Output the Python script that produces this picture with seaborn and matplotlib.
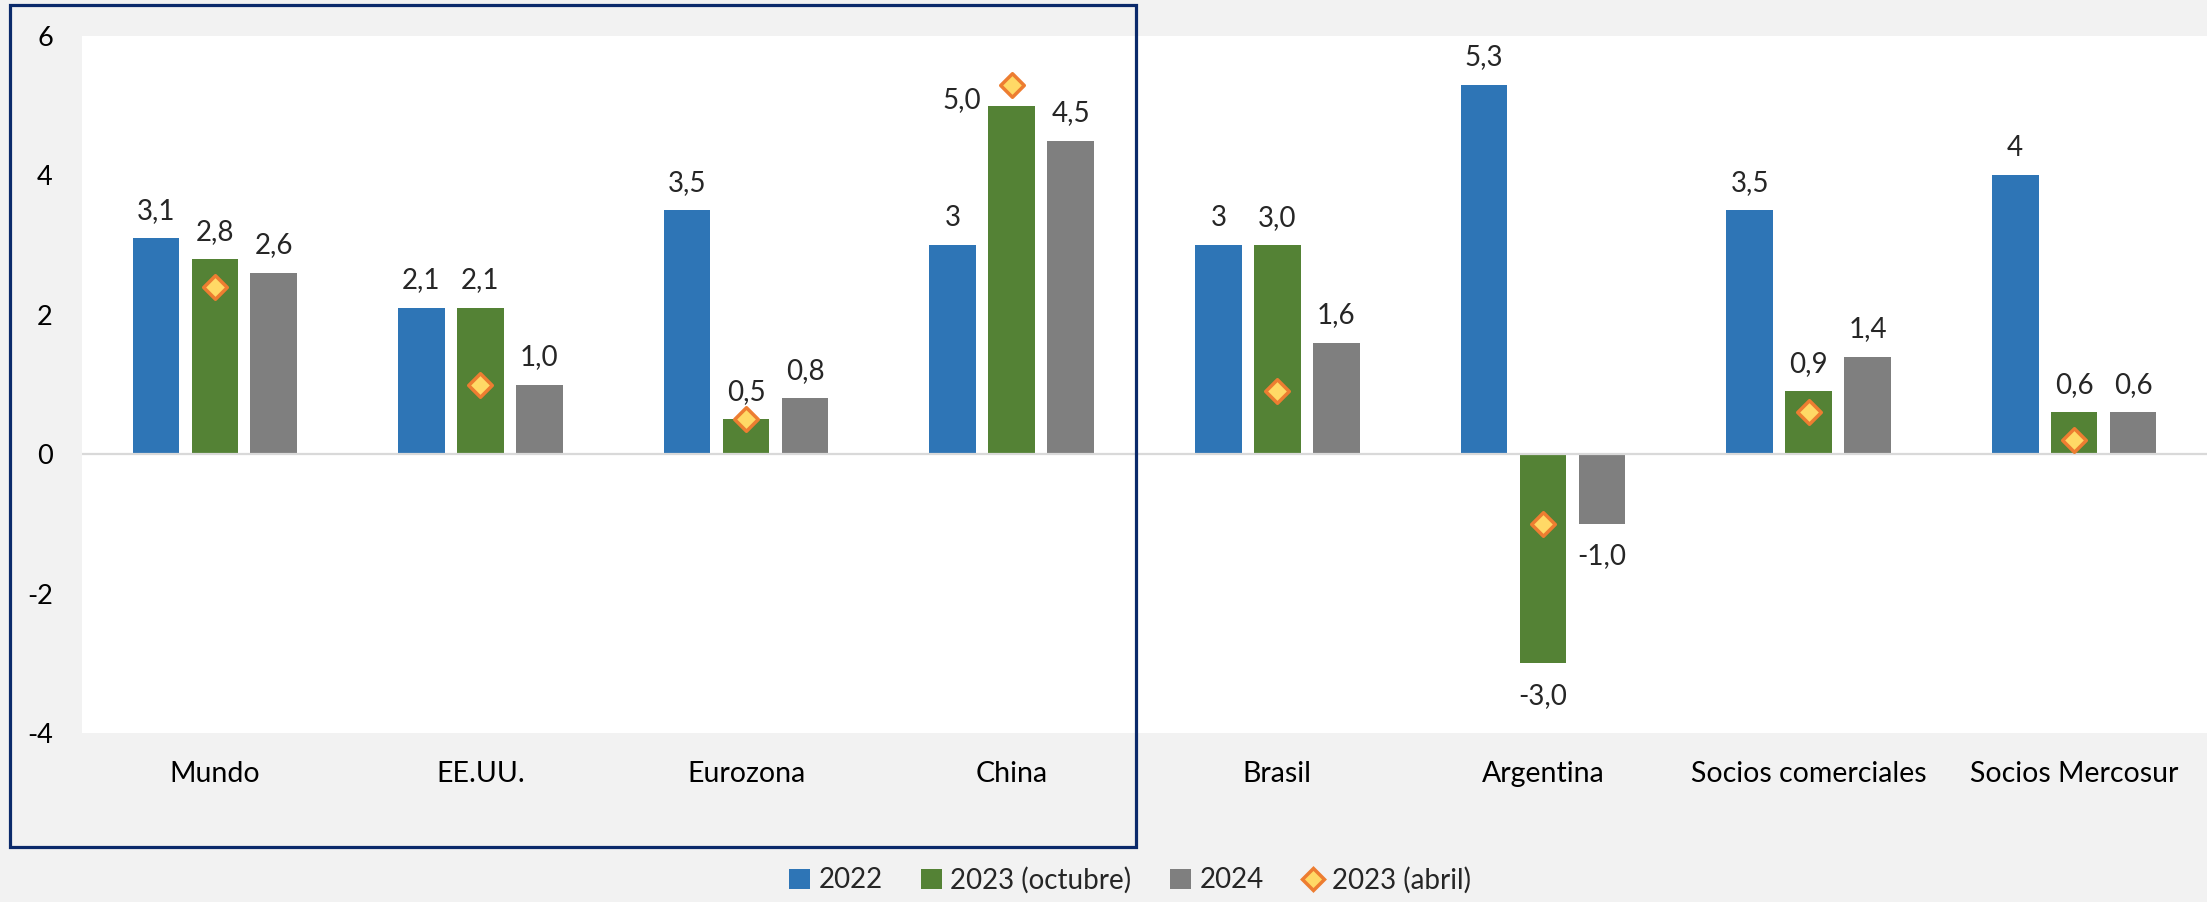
import matplotlib
matplotlib.use("Agg")
import matplotlib.pyplot as plt
from matplotlib.patches import Rectangle
from matplotlib.lines import Line2D
import seaborn as sns
import pandas as pd

categories = ["Mundo", "EE.UU.", "Eurozona", "China", "Brasil", "Argentina",
              "Socios comerciales", "Socios Mercosur"]
series_names = ["2022", "2023 (octubre)", "2024"]
v2022 = [3.1, 2.1, 3.5, 3.0, 3.0, 5.3, 3.5, 4.0]
v2023_oct = [2.8, 2.1, 0.5, 5.0, 3.0, -3.0, 0.9, 0.6]
v2024 = [2.6, 1.0, 0.8, 4.5, 1.6, -1.0, 1.4, 0.6]
v2023_abr = [2.4, 1.0, 0.5, 5.3, 0.9, -1.0, 0.6, 0.2]
labels2022 = ["3,1", "2,1", "3,5", "3", "3", "5,3", "3,5", "4"]
labels2023 = ["2,8", "2,1", "0,5", "5,0", "3,0", "-3,0", "0,9", "0,6"]
labels2024 = ["2,6", "1,0", "0,8", "4,5", "1,6", "-1,0", "1,4", "0,6"]
yticks = [-4, -2, 0, 2, 4, 6]
ytick_labels = ["-4", "-2", "0", "2", "4", "6"]

colors = ["#2E75B6", "#548235", "#7F7F7F"]
BG = "#F2F2F2"

sns.set_theme(style="white")
plt.rcParams["font.family"] = ["Lato", "DejaVu Sans"]

W, H = 2207, 902
fig = plt.figure(figsize=(W / 100, H / 100), dpi=100, facecolor=BG)
ax = fig.add_axes([82 / W, 1 - 733 / H, (W - 82) / W, (733 - 36) / H])
ax.set_facecolor("white")

df = pd.DataFrame({
    "cat": categories * 3,
    "serie": [series_names[0]] * 8 + [series_names[1]] * 8 + [series_names[2]] * 8,
    "valor": v2022 + v2023_oct + v2024,
})

sns.barplot(data=df, x="cat", y="valor", hue="serie", order=categories,
            hue_order=series_names, palette=colors, width=0.666, gap=0.21,
            saturation=1, ax=ax, legend=True, edgecolor="none")

handles, lbls = ax.get_legend_handles_labels()
handles = handles[:3]

sns.stripplot(x=categories, y=v2023_abr, order=categories, jitter=False,
              marker="D", size=12, color="#FFD966", edgecolor="#ED7D31",
              linewidth=2.5, ax=ax, zorder=5, legend=False)

if ax.get_legend() is not None:
    ax.get_legend().remove()

ax.axhline(0, color="#D9D9D9", lw=1.6, zorder=1)

ax.set_xlim(-0.5, 7.5)
ax.set_ylim(-4, 6)
ax.set_yticks(yticks)
ax.set_yticklabels(ytick_labels)
ax.set_xlabel("")
ax.set_ylabel("")
ax.tick_params(axis="y", length=0, pad=21, labelsize=19.5, colors="black")
ax.tick_params(axis="x", length=0, pad=20, labelsize=20.5, colors="black")
for s in ax.spines.values():
    s.set_visible(False)

# data labels
FS = 20
step = 0.222
all_vals = [v2022, v2023_oct, v2024]
all_lbls = [labels2022, labels2023, labels2024]
for k in range(3):
    off = (k - 1) * step
    for i, (v, t) in enumerate(zip(all_vals[k], all_lbls[k])):
        x = i + off
        if k == 1 and categories[i] == "China":
            ax.annotate(t, (x, v), xytext=(-22, 4), textcoords="offset points",
                        ha="right", va="center", fontsize=FS)
        elif v >= 0:
            ax.annotate(t, (x, v), xytext=(0, 14), textcoords="offset points",
                        ha="center", va="baseline", fontsize=FS)
        else:
            ax.annotate(t, (x, v), xytext=(0, -14), textcoords="offset points",
                        ha="center", va="top", fontsize=FS)

# frame around the first four categories
fig.patches.append(Rectangle((10 / W, 1 - 847 / H), (1136 - 10) / W, (847 - 5) / H,
                             transform=fig.transFigure, fill=False,
                             edgecolor="#0B2A6B", lw=2.3, zorder=10))

diamond = Line2D([], [], marker="D", linestyle="none", markersize=11,
                 markerfacecolor="#FFD966", markeredgecolor="#ED7D31",
                 markeredgewidth=2.5)
fig.legend(handles + [diamond], series_names + ["2023 (abril)"],
           loc="center", bbox_to_anchor=(1130 / W, 1 - 880 / H), ncol=4,
           frameon=False, fontsize=20, handlelength=0.75, handleheight=0.75,
           handletextpad=0.3, columnspacing=1.4)

fig.savefig("out.png", dpi=100, facecolor=BG)
